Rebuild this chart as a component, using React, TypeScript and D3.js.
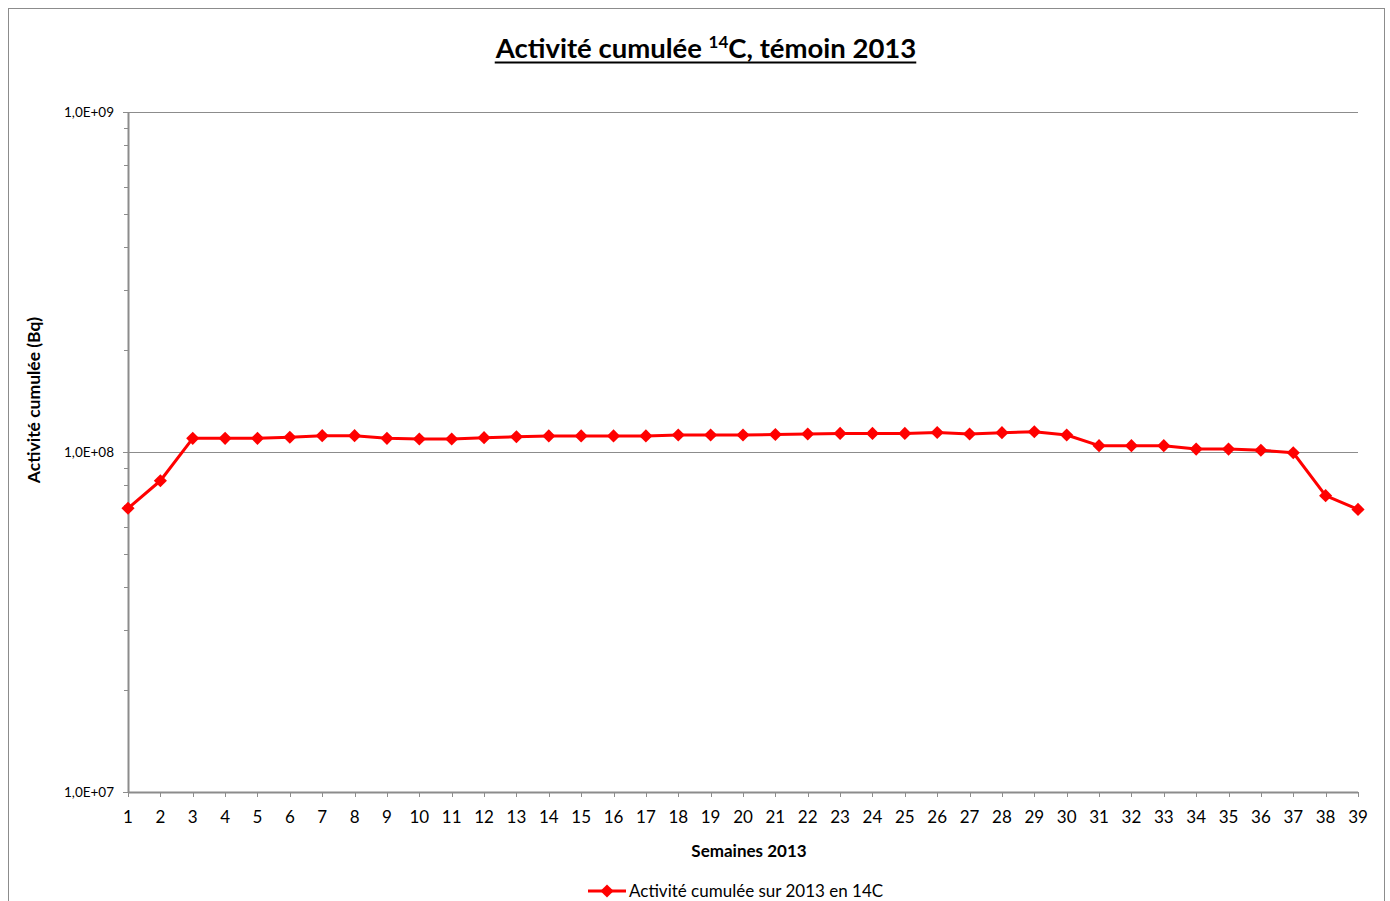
import React, { useEffect, useRef } from 'react';
import * as d3 from 'd3';

// weeks of 2013 and cumulated 14C activity (Bq)
const weeks: number[] = d3.range(1, 40);
const activity: number[] = [
  6.83e7, 8.23e7, 1.097e8, 1.097e8, 1.097e8, 1.105e8, 1.117e8, 1.117e8, 1.097e8, 1.092e8,
  1.092e8, 1.102e8, 1.109e8, 1.115e8, 1.115e8, 1.115e8, 1.115e8, 1.122e8, 1.122e8, 1.122e8,
  1.126e8, 1.13e8, 1.134e8, 1.134e8, 1.134e8, 1.141e8, 1.13e8, 1.14e8, 1.147e8, 1.122e8,
  1.044e8, 1.044e8, 1.044e8, 1.02e8, 1.02e8, 1.012e8, 0.995e8, 7.44e7, 6.78e7,
];
const yTicks: number[] = [1e7, 1e8, 1e9];
const yTickLabels: string[] = ['1,0E+07', '1,0E+08', '1,0E+09'];
const seriesName = 'Activité cumulée sur 2013 en 14C';

const FONT = 'Lato, "Open Sans", sans-serif';

export default function App() {
  const ref = useRef<SVGSVGElement>(null);

  useEffect(() => {
    const svg = d3.select(ref.current);
    svg.selectAll('*').remove();

    const left = 128, right = 1358, top = 112, bottom = 792;

    const x = d3.scaleLinear().domain([1, 39]).range([left, right]);
    const y = d3.scaleLog().domain([1e7, 1e9]).range([bottom, top]);

    // chart border
    svg.append('rect')
        .attr('x', 8.5).attr('y', 8.5)
        .attr('width', 1376).attr('height', 910)
        .attr('fill', 'white')
        .attr('stroke', '#8c8c8c');

    // title
    const title = svg.append('text')
        .attr('x', 706).attr('y', 58)
        .attr('text-anchor', 'middle')
        .attr('font-family', FONT)
        .attr('font-weight', 'bold')
        .attr('font-size', 27.5)
        .attr('fill', '#000');
    title.append('tspan').text('Activité cumulée ');
    title.append('tspan').attr('dy', -10).attr('font-size', 17).text('14');
    title.append('tspan').attr('dy', 10).text('C, témoin 2013');
    const tb = (title.node() as SVGTextElement).getBBox();
    svg.append('line')
        .attr('x1', tb.x).attr('x2', tb.x + tb.width)
        .attr('y1', 62.5).attr('y2', 62.5)
        .attr('stroke', '#000').attr('stroke-width', 2);

    // gridlines
    svg.append('g').selectAll('line')
        .data(yTicks.slice(1))
        .join('line')
        .attr('x1', left).attr('x2', right)
        .attr('y1', (d) => Math.round(y(d)) + 0.5)
        .attr('y2', (d) => Math.round(y(d)) + 0.5)
        .attr('stroke', '#8c8c8c');

    // y axis (log, with minor ticks)
    const minor: number[] = [];
    [1e7, 1e8].forEach((p) => {
      for (let k = 2; k <= 9; k++) minor.push(k * p);
    });
    const yAxis = svg.append('g');
    yAxis.append('line')
        .attr('x1', left + 0.5).attr('x2', left + 0.5)
        .attr('y1', top).attr('y2', bottom)
        .attr('stroke', '#8c8c8c').attr('stroke-width', 2);
    yAxis.selectAll('line.major')
        .data(yTicks)
        .join('line')
        .attr('class', 'major')
        .attr('x1', left - 5).attr('x2', left)
        .attr('y1', (d) => Math.round(y(d)) + 0.5)
        .attr('y2', (d) => Math.round(y(d)) + 0.5)
        .attr('stroke', '#8c8c8c');
    yAxis.selectAll('line.minor')
        .data(minor)
        .join('line')
        .attr('class', 'minor')
        .attr('x1', left - 4).attr('x2', left)
        .attr('y1', (d) => Math.round(y(d)) + 0.5)
        .attr('y2', (d) => Math.round(y(d)) + 0.5)
        .attr('stroke', '#8c8c8c');
    yAxis.selectAll('text')
        .data(yTicks)
        .join('text')
        .attr('x', 114)
        .attr('y', (d) => y(d) + 4.5)
        .attr('text-anchor', 'end')
        .attr('font-family', FONT)
        .attr('font-size', 13.5)
        .attr('fill', '#000')
        .text((d, i) => yTickLabels[i]);

    // x axis
    const xAxis = svg.append('g');
    xAxis.append('line')
        .attr('x1', left).attr('x2', right)
        .attr('y1', bottom + 0.5).attr('y2', bottom + 0.5)
        .attr('stroke', '#8c8c8c').attr('stroke-width', 2);
    xAxis.selectAll('line.tick')
        .data(weeks)
        .join('line')
        .attr('class', 'tick')
        .attr('x1', (d) => Math.round(x(d)) + 0.5)
        .attr('x2', (d) => Math.round(x(d)) + 0.5)
        .attr('y1', bottom).attr('y2', bottom + 5)
        .attr('stroke', '#8c8c8c');
    xAxis.selectAll('text')
        .data(weeks)
        .join('text')
        .attr('x', (d) => x(d))
        .attr('y', 823)
        .attr('text-anchor', 'middle')
        .attr('font-family', FONT)
        .attr('font-size', 17)
        .attr('fill', '#000')
        .text((d) => String(d));

    // axis titles
    svg.append('text')
        .attr('x', 749).attr('y', 857)
        .attr('text-anchor', 'middle')
        .attr('font-family', FONT)
        .attr('font-weight', 'bold')
        .attr('font-size', 17)
        .text('Semaines 2013');
    svg.append('text')
        .attr('transform', 'translate(40,400) rotate(-90)')
        .attr('text-anchor', 'middle')
        .attr('font-family', FONT)
        .attr('font-weight', 'bold')
        .attr('font-size', 17.5)
        .text('Activité cumulée (Bq)');

    // series
    const line = d3.line<number>()
        .x((d, i) => x(weeks[i]))
        .y((d) => y(d));
    svg.append('path')
        .datum(activity)
        .attr('d', line)
        .attr('fill', 'none')
        .attr('stroke', '#ff0000')
        .attr('stroke-width', 3)
        .attr('stroke-linejoin', 'round');

    const diamond = d3.symbol().type(d3.symbolDiamond2).size(110);
    svg.append('g').selectAll('path')
        .data(activity)
        .join('path')
        .attr('d', diamond)
        .attr('transform', (d, i) => `translate(${x(weeks[i])},${y(d)})`)
        .attr('fill', '#ff0000');

    // legend
    const lg = svg.append('g');
    lg.append('line')
        .attr('x1', 588).attr('x2', 626)
        .attr('y1', 891).attr('y2', 891)
        .attr('stroke', '#ff0000').attr('stroke-width', 3);
    lg.append('path')
        .attr('d', diamond)
        .attr('transform', 'translate(607,891)')
        .attr('fill', '#ff0000');
    lg.append('text')
        .attr('x', 629).attr('y', 897)
        .attr('font-family', FONT)
        .attr('font-size', 17)
        .attr('fill', '#000')
        .text(seriesName);
  }, []);

  return (
    <svg ref={ref} width={1390} height={901}
      style={{position: 'absolute', left: 0, top: 0, background: 'white'}} />
  );
}
